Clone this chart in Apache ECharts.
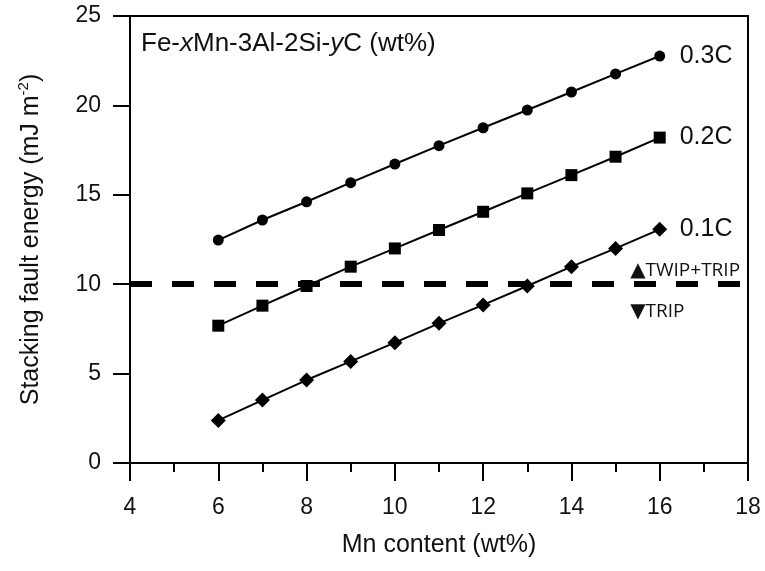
<!DOCTYPE html>
<html>
<head>
<meta charset="utf-8">
<script src="https://cdn.jsdelivr.net/npm/echarts@6/dist/echarts.min.js"></script>
<style>
html,body{margin:0;padding:0;background:#fff;}
#chart{width:765px;height:571px;}
</style>
</head>
<body>
<div id="chart"></div>
<script>
// Mn content (wt%)
const mnContent = [6, 7, 8, 9, 10, 11, 12, 13, 14, 15, 16];
// Stacking fault energy (mJ m^-2)
const sfe03C = [12.47, 13.59, 14.61, 15.68, 16.72, 17.75, 18.75, 19.74, 20.75, 21.76, 22.76];
const sfe02C = [7.68, 8.8, 9.9, 10.98, 12.0, 13.03, 14.05, 15.08, 16.1, 17.13, 18.2];
const sfe01C = [2.38, 3.52, 4.64, 5.68, 6.73, 7.81, 8.84, 9.9, 10.98, 12.0, 13.07];
const seriesNames = ['0.3C', '0.2C', '0.1C'];
const thresholdSFE = [10];
const regionMarks = ['▲', '▼'];
const regionLabels = ['TWIP+TRIP', 'TRIP'];
const xTicks = [4, 6, 8, 10, 12, 14, 16, 18];
const yTicks = [0, 5, 10, 15, 20, 25];

const FONT = '"Liberation Sans", Arial, Helvetica, sans-serif';
const pairs = arr => mnContent.map((x, i) => [x, arr[i]]);

const chart = echarts.init(document.getElementById('chart'), null, {renderer: 'canvas'});

function lineSeries(name, data, symbol, size) {
  return {
    name: name,
    type: 'line',
    data: pairs(data),
    symbol: symbol,
    symbolSize: size,
    showAllSymbol: true,
    z: 5,
    lineStyle: {color: '#000', width: 2},
    itemStyle: {color: '#000'},
    endLabel: {
      show: true,
      formatter: name,
      distance: 20,
      color: '#111',
      fontFamily: FONT,
      fontSize: 25
    }
  };
}

const regionRich = {
  t: {fontFamily: '"DejaVu Sans", sans-serif', fontSize: 20, color: '#111'},
  w: {fontFamily: '"Open Sans", "Noto Sans", sans-serif', fontSize: 19, color: '#111'}
};

const option = {
  animation: false,
  backgroundColor: '#fff',
  title: {
    text: '{n|Fe-}{i|x}{n|Mn-3Al-2Si-}{i|y}{n|C (wt%)}',
    left: 141,
    top: 31,
    padding: 0,
    textStyle: {
      fontWeight: 'normal',
      rich: {
        n: {fontFamily: FONT, fontSize: 26, fontWeight: 'normal', color: '#111'},
        i: {fontFamily: FONT, fontSize: 26, fontWeight: 'normal', fontStyle: 'italic', color: '#111'}
      }
    }
  },
  grid: {
    left: 130, right: 17, top: 16, bottom: 108,
    show: true,
    borderColor: '#000',
    borderWidth: 2,
    backgroundColor: 'transparent'
  },
  xAxis: {
    type: 'value',
    min: xTicks[0],
    max: xTicks[xTicks.length - 1],
    interval: 2,
    name: 'Mn content (wt%)',
    nameLocation: 'middle',
    nameGap: 70,
    nameTextStyle: {fontFamily: FONT, fontSize: 25, color: '#111'},
    axisLine: {show: true, onZero: false, lineStyle: {color: '#000', width: 2}},
    axisTick: {show: true, inside: false, length: 18, lineStyle: {color: '#000', width: 2}},
    minorTick: {show: true, splitNumber: 2, length: 9, lineStyle: {color: '#000', width: 2}},
    axisLabel: {margin: 33, fontFamily: FONT, fontSize: 23, color: '#111'},
    splitLine: {show: false},
    minorSplitLine: {show: false}
  },
  yAxis: {
    type: 'value',
    min: yTicks[0],
    max: yTicks[yTicks.length - 1],
    interval: 5,
    name: '{a|Stacking fault energy (mJ m}{s|-2}{a|)}',
    nameLocation: 'middle',
    nameGap: 84,
    nameTextStyle: {
      rich: {
        a: {fontFamily: FONT, fontSize: 25, color: '#111', lineHeight: 30},
        s: {fontFamily: FONT, fontSize: 15, color: '#111', verticalAlign: 'top', lineHeight: 30, padding: [0, 0, 12, 0]}
      }
    },
    axisLine: {show: true, onZero: false, lineStyle: {color: '#000', width: 2}},
    axisTick: {show: true, inside: false, length: 17, lineStyle: {color: '#000', width: 2}},
    axisLabel: {margin: 29, fontFamily: FONT, fontSize: 23, color: '#111'},
    splitLine: {show: false}
  },
  series: [
    {
      name: 'threshold',
      type: 'line',
      data: [],
      z: 2,
      markLine: {
        silent: true,
        symbol: 'none',
        label: {show: false},
        lineStyle: {color: '#000', width: 6, type: [22, 20]},
        data: [{yAxis: thresholdSFE[0]}]
      },
      markPoint: {
        silent: true,
        symbol: 'rect',
        symbolSize: 0,
        label: {
          show: true,
          position: 'right',
          distance: 0,
          rich: regionRich
        },
        data: [
          {coord: [15.33, thresholdSFE[0] + 0.75], value: 0, label: {formatter: '{t|' + regionMarks[0] + '}{w|' + regionLabels[0] + '}'}},
          {coord: [15.33, thresholdSFE[0] - 1.55], value: 0, label: {formatter: '{t|' + regionMarks[1] + '}{w|' + regionLabels[1] + '}'}}
        ]
      }
    },
    lineSeries(seriesNames[0], sfe03C, 'circle', 11),
    lineSeries(seriesNames[1], sfe02C, 'rect', 12),
    lineSeries(seriesNames[2], sfe01C, 'diamond', 15)
  ]
};
chart.setOption(option);
</script>
</body>
</html>
